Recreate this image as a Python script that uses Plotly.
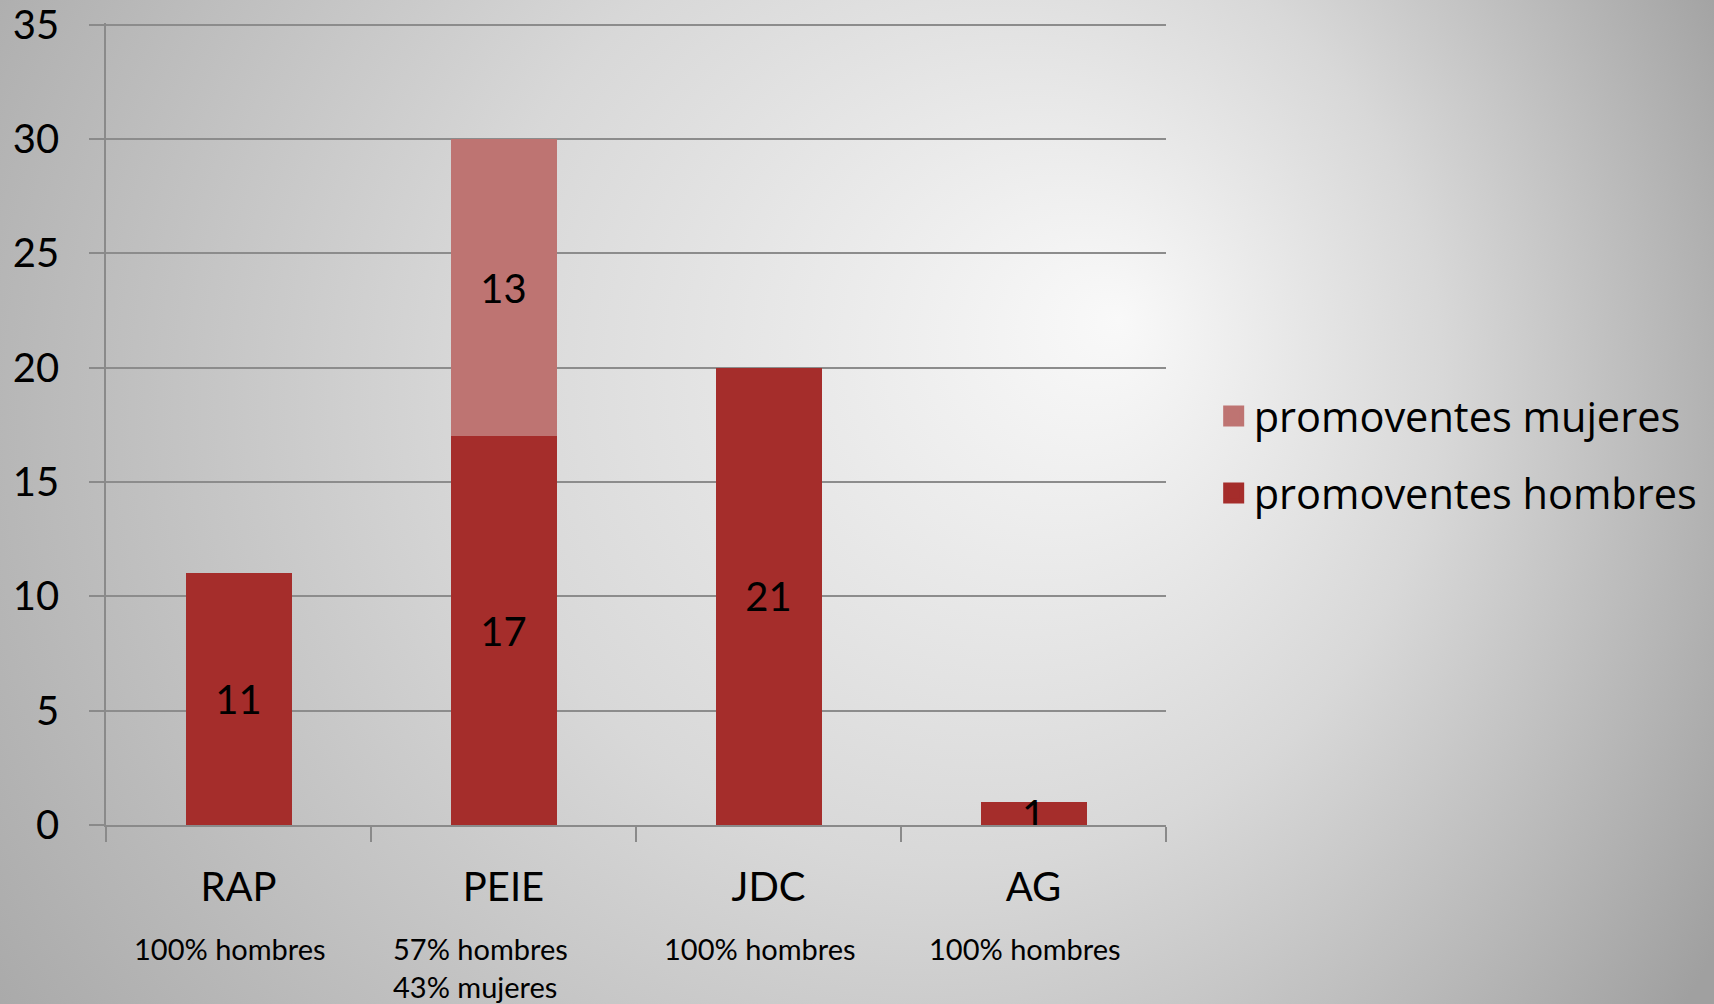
import plotly.graph_objects as go
import urllib.parse

categories = ["RAP", "PEIE", "JDC", "AG"]
hombres = [11, 17, 20, 1]
hombres_labels = ["11", "17", "21", "1"]
mujeres = [0, 13, 0, 0]
mujeres_labels = ["", "13", "", ""]
sub_labels = ["100% hombres", "57% hombres<br>43% mujeres", "100% hombres", "100% hombres"]
y_ticks = [0, 5, 10, 15, 20, 25, 30, 35]

COL_H = "#A52D2B"
COL_M = "#BE7472"

W, H = 1714, 1004
ML, MR, MT, MB = 106, 547, 23, 179
PW, PH = W - ML - MR, H - MT - MB

FONT = "Lato"

PAD = 20
svg = f"""<svg xmlns='http://www.w3.org/2000/svg' width='{W + 2 * PAD}' height='{H + 2 * PAD}' viewBox='{-PAD} {-PAD} {W + 2 * PAD} {H + 2 * PAD}' preserveAspectRatio='none'>
<defs><radialGradient id='g' gradientUnits='userSpaceOnUse' cx='760' cy='450' r='1080' fx='1120' fy='320'>
<stop offset='0' stop-color='#F9F9F9'/><stop offset='0.45' stop-color='#D8D8D8'/><stop offset='1' stop-color='#A0A0A0'/>
</radialGradient></defs><rect x='{-PAD}' y='{-PAD}' width='{W + 2 * PAD}' height='{H + 2 * PAD}' fill='url(#g)'/></svg>"""
bg_src = "data:image/svg+xml;charset=utf-8," + urllib.parse.quote(svg)

fig = go.Figure()
fig.add_trace(go.Bar(
    x=categories, y=hombres, name="promoventes hombres",
    marker=dict(color=COL_H, line=dict(width=0)),
    text=hombres_labels, textposition="inside", insidetextanchor="middle",
    constraintext="none", textangle=0,
    textfont=dict(family=FONT, size=40, color="black"),
    showlegend=False,
))
fig.add_trace(go.Bar(
    x=categories, y=mujeres, name="promoventes mujeres",
    marker=dict(color=COL_M, line=dict(width=0)),
    text=mujeres_labels, textposition="inside", insidetextanchor="middle",
    constraintext="none", textangle=0,
    textfont=dict(family=FONT, size=40, color="black"),
    showlegend=False,
))
# legend entries (larger square swatches)
for name, col, rank in [("promoventes mujeres", COL_M, 1), ("promoventes hombres", COL_H, 2)]:
    fig.add_trace(go.Scatter(
        x=[None], y=[None], mode="markers", name=name, legendrank=rank,
        legendgroup=name,
        marker=dict(symbol="square", size=16, color=col, line=dict(color=col, width=5)),
        hoverinfo="skip",
    ))

for i, s in enumerate(sub_labels):
    two = "<br>" in s
    fig.add_annotation(
        x=categories[i], xref="x", y=-0.130, yref="paper",
        text=s, showarrow=False, yanchor="top",
        xanchor="center" if not two else "left",
        xshift=-9 if not two else -113,
        align="left",
        font=dict(family=FONT, size=29, color="black"),
    )

fig.update_layout(
    width=W, height=H,
    margin=dict(l=ML, r=MR, t=MT, b=MB),
    barmode="stack", bargap=0.6,
    paper_bgcolor="#C0C0C0", plot_bgcolor="rgba(0,0,0,0)",
    font=dict(family=FONT, color="black"),
    showlegend=True,
    legend=dict(
        x=1.044, xanchor="left", y=0.462, yanchor="middle",
        traceorder="grouped", tracegroupgap=20,
        font=dict(family="Open Sans", size=41.5, color="black"),
        bgcolor="rgba(0,0,0,0)", itemsizing="trace",
    ),
    images=[dict(
        source=bg_src, xref="paper", yref="paper",
        x=-(ML + PAD) / PW, y=1 + (MT + PAD) / PH,
        sizex=(W + 2 * PAD) / PW, sizey=(H + 2 * PAD) / PH,
        xanchor="left", yanchor="top", sizing="stretch", layer="below",
    )],
    xaxis=dict(
        tickson="boundaries", ticks="outside", ticklen=15, tickcolor="#8A8A8A", tickwidth=1.5,
        showline=True, linecolor="#8A8A8A", linewidth=1.5,
        tickfont=dict(family=FONT, size=40, color="black"),
        ticklabelstandoff=26, showgrid=False,
    ),
    yaxis=dict(
        range=[0, 35.07], tickmode="array", tickvals=y_ticks,
        ticks="outside", ticklen=15,
        tickcolor="#8A8A8A", tickwidth=1.5,
        showline=True, linecolor="#8A8A8A", linewidth=1.5,
        gridcolor="#8C8C8C", gridwidth=1.5, zeroline=False,
        tickfont=dict(family=FONT, size=40, color="black"),
        ticklabelstandoff=22, automargin=False, ticklabeloverflow="allow",
    ),
)

fig.write_html(
    "out.html",
    config={"displayModeBar": False},
    post_script="document.body.style.margin='0';document.body.style.overflow='hidden';",
)
